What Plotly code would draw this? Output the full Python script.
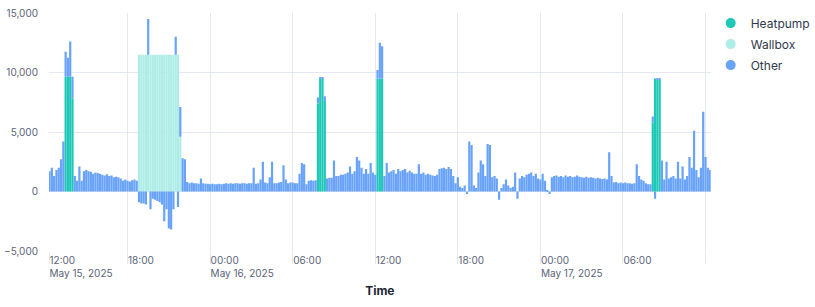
import pandas as pd
import plotly.graph_objects as go

# ---- data (W), 10-minute steps ----
start = "2025-05-15 12:20"

other_may15 = [
    1700, 2000, 1300, 1800,                      # 12:20-12:50
    2000, 2700, 4200, 2100, 1600, 2950,          # 13
    1850, 1300, 900, 2100, 900, 1700,            # 14
    1800, 1700, 1650, 1500, 1600, 1550,          # 15
    1500, 1400, 1350, 1450, 1300, 1350,          # 16
    1200, 1250, 1200, 1100, 900, 1000,           # 17
    900, 850, 950, 1000, 900, -900,              # 18
    -1000, -1000, -1100, 3000, -1500, -600,      # 19
    -700, -800, -900, -1100, -2500, -1500,       # 20
    -3100, -3200, -1500, 1500, -1300, 2500,      # 21
    2800, 2700, 800, 700, 750, 700,              # 22
    700, 650, 1100, 700, 650, 650,               # 23
]
other_may16 = [
    600, 650, 600, 600, 650, 600,                # 00
    650, 700, 650, 700, 650, 700,                # 01
    700, 650, 700, 700, 650, 700,                # 02
    700, 2000, 650, 700, 1000, 2500,             # 03
    750, 700, 1200, 2500, 700, 700,              # 04
    750, 800, 2200, 1000, 700, 750,              # 05
    750, 700, 700, 1500, 2400, 2300,             # 06
    600, 900, 950, 900, 950, 500,                # 07
    100, 100, 400, 1100, 1150, 1150,             # 08
    2600, 1300, 1300, 1400, 1400, 1500,          # 09
    1600, 2100, 1500, 1700, 2900, 2600,          # 10
    2000, 1500, 1900, 1500, 2400, 1600,          # 11
    1400, 700, 3000, 2700, 1300, 2400,           # 12
    1600, 1700, 1800, 1500, 1900, 1700,          # 13
    1800, 1900, 1600, 1750, 1600, 1500,          # 14
    1500, 2300, 1500, 1600, 1400, 1500,          # 15
    1400, 1350, 1300, 1400, 1900, 1950,          # 16
    2000, 1900, 2050, 1900, 1300, 700,           # 17
    1200, 400, 300, 500, -200, 4200,             # 18
    3900, 500, 300, 1600, 2600, 2300,            # 19
    1300, 4000, 3900, 1200, 1300, 1100,          # 20
    -700, 300, 600, 1000, 500, 300,              # 21
    400, 1600, -600, 1100, 1300, 1200,           # 22
    1400, 1500, 1600, 1300, 1500, 1100,          # 23
]
other_may17 = [
    1000, 1500, 900, 100, -200, 1200,            # 00
    1300, 1350, 1250, 1300, 1200, 1350,          # 01
    1250, 1300, 1200, 1250, 1350, 1250,          # 02
    1200, 1150, 1250, 1150, 1200, 1150,          # 03
    1100, 1150, 1100, 1050, 1100, 1000,          # 04
    3300, 1300, 750, 800, 700, 750,              # 05
    700, 750, 700, 700, 650, 700,                # 06
    2300, 1300, 1000, 900, 700, 600,             # 07
    600, 500, -600, 100, 100, 2600,              # 08
    1000, 2500, 1100, 1200, 1300, 1100,          # 09
    2500, 1100, 2100, 1000, 1300, 2900,          # 10
    2000, 5100, 1800, 1200, 2000, 6700,          # 11
    2900, 2000, 1800,                            # 12:00-12:20
]
other = other_may15 + other_may16 + other_may17

heatpump_times = [
    "2025-05-15 13:30", "2025-05-15 13:40", "2025-05-15 13:50", "2025-05-15 14:00",
    "2025-05-16 07:50", "2025-05-16 08:00", "2025-05-16 08:10", "2025-05-16 08:20",
    "2025-05-16 12:10", "2025-05-16 12:20", "2025-05-16 12:30",
    "2025-05-17 08:10", "2025-05-17 08:20", "2025-05-17 08:30", "2025-05-17 08:40",
]
heatpump = [9650, 9650, 9650, 7800,
            7400, 9500, 9500, 7600,
            9500, 9500, 9500,
            5800, 9500, 9400, 9400]

wallbox_times = [
    "2025-05-15 18:50", "2025-05-15 19:00", "2025-05-15 19:10", "2025-05-15 19:20",
    "2025-05-15 19:30", "2025-05-15 19:40", "2025-05-15 19:50", "2025-05-15 20:00",
    "2025-05-15 20:10", "2025-05-15 20:20", "2025-05-15 20:30", "2025-05-15 20:40",
    "2025-05-15 20:50", "2025-05-15 21:00", "2025-05-15 21:10", "2025-05-15 21:20",
    "2025-05-15 21:30", "2025-05-15 21:40", "2025-05-15 21:50",
]
wallbox = [11500, 11500, 11500, 11500, 11500, 11500, 11500, 11500, 11500, 11500,
           11500, 11500, 11500, 11500, 11500, 11500, 11500, 11500, 4600]

# x-axis ticks (first label sits at the start of the visible range)
x_range = ["2025-05-15 12:17:30", "2025-05-17 12:22:30"]
tick_vals = [x_range[0], "2025-05-15 18:00", "2025-05-16 00:00", "2025-05-16 06:00",
             "2025-05-16 12:00", "2025-05-16 18:00", "2025-05-17 00:00",
             "2025-05-17 06:00", "2025-05-17 12:00"]
tick_text = ["12:00<br>May 15, 2025", "18:00", "00:00<br>May 16, 2025", "06:00",
             "12:00", "18:00", "00:00<br>May 17, 2025", "06:00", ""]

times = pd.date_range(start, periods=len(other), freq="10min").strftime("%Y-%m-%d %H:%M").tolist()

C_HP = "#1ec8b7"
C_WB = "#aeede7"
C_OT = "#68a3f9"
GRID = "#e4e8f0"
BAR_W = 0.96 * 10 * 60 * 1000

fig = go.Figure()
fig.add_trace(go.Bar(x=heatpump_times, y=heatpump, name="Heatpump", marker_color=C_HP,
                     marker_line_width=0, width=BAR_W, showlegend=False))
fig.add_trace(go.Bar(x=wallbox_times, y=wallbox, name="Wallbox", marker_color=C_WB,
                     marker_line_width=0, width=BAR_W, showlegend=False))
fig.add_trace(go.Bar(x=times, y=other, name="Other", marker_color=C_OT,
                     marker_line_width=0, width=BAR_W, showlegend=False))
for nm, c in [("Heatpump", C_HP), ("Wallbox", C_WB), ("Other", C_OT)]:
    fig.add_trace(go.Scatter(x=[None], y=[None], mode="markers", name=nm, legendgroup=nm,
                             marker=dict(color=c, size=10, symbol="circle")))

fig.update_layout(
    width=815, height=307,
    margin=dict(l=49, r=104, t=13, b=56),
    barmode="relative",
    plot_bgcolor="white", paper_bgcolor="white",
    font=dict(family="Inter, sans-serif", size=10, color="#5b6478"),
    legend=dict(xref="container", yref="container", x=0.872, y=0.972,
                xanchor="left", yanchor="top", traceorder="grouped", tracegroupgap=2,
                font=dict(size=12, color="#2f3a4c"), bgcolor="rgba(0,0,0,0)"),
    xaxis=dict(
        type="date", automargin=False,
        range=x_range,
        tickmode="array", tickvals=tick_vals, ticktext=tick_text,
        showgrid=True, gridcolor=GRID, gridwidth=1,
        ticks="outside", ticklen=12, tickcolor=GRID,
        ticklabelposition="outside right",
        showline=False, zeroline=False,
        title=dict(text="<b>Time</b>", font=dict(size=12, color="#1e2636"), standoff=8),
    ),
    yaxis=dict(
        automargin=False,
        range=[-5000, 15000], dtick=5000, tickformat=",",
        showgrid=True, gridcolor=GRID, gridwidth=1,
        zeroline=False, showline=False,
        ticks="", ticklabelstandoff=10,
    ),
)

fig.write_html("out.html")
